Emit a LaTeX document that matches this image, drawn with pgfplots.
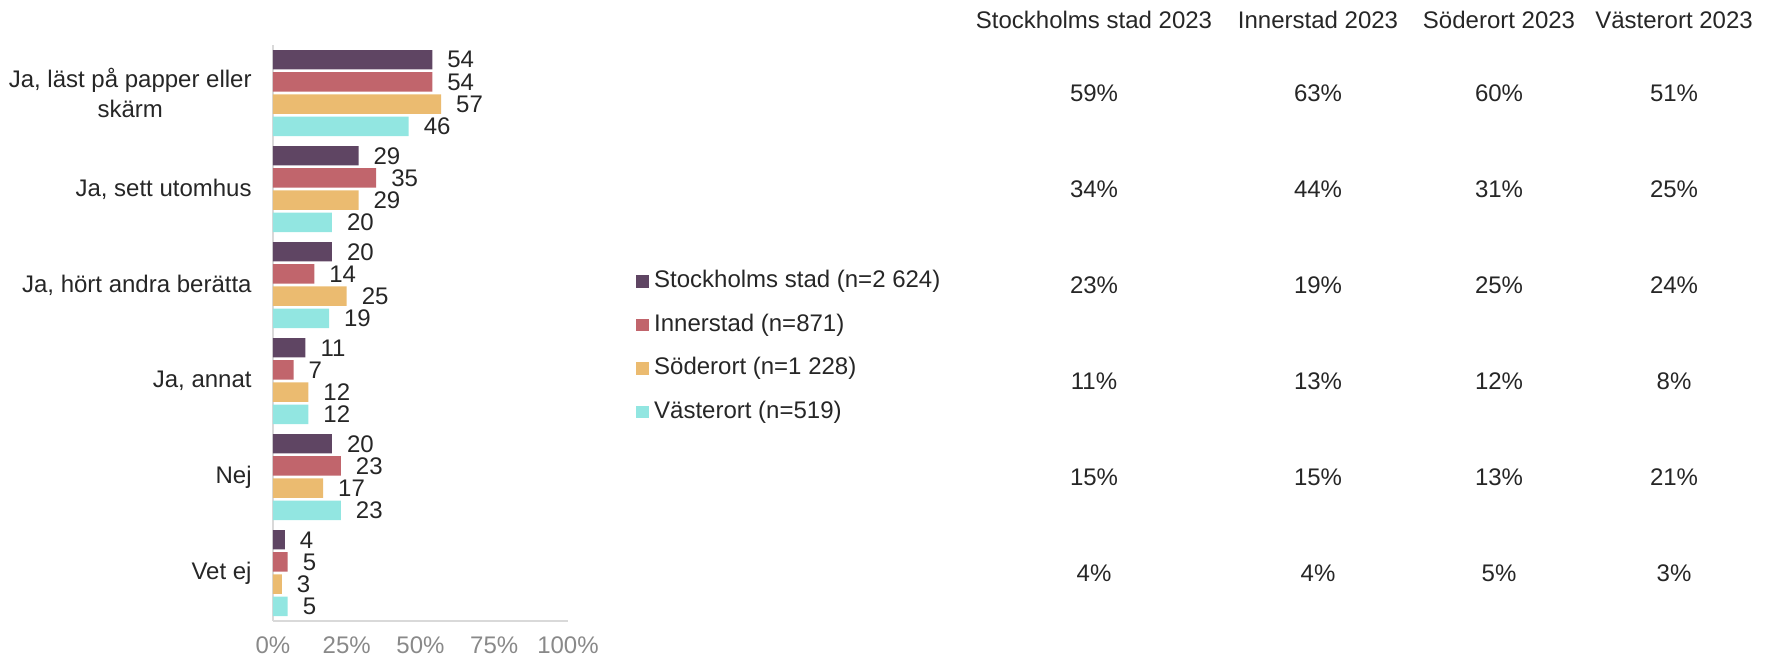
\documentclass[border=0pt]{standalone}
\usepackage{pgfplots}
\pgfplotsset{compat=1.18}
\usepackage{pgfplotstable}
\usepackage{fontspec}
\setmainfont{Liberation Sans}
\definecolor{cSth}{RGB}{95,69,99}
\definecolor{cInn}{RGB}{193,101,108}
\definecolor{cSod}{RGB}{235,187,112}
\definecolor{cVas}{RGB}{146,230,225}
\definecolor{axgray}{RGB}{217,217,217}
\definecolor{tickgray}{RGB}{137,137,137}
\definecolor{txt}{RGB}{38,38,38}

% bar chart data (percent)
\pgfplotstableread{
y sth inn sod vas
0 54 54 57 46
1 29 35 29 20
2 20 14 25 19
3 11 7 12 12
4 20 23 17 23
5 4 5 3 5
}\bars

% table to the right (percent), x = column position in px
\pgfplotstableread{
y c1 c2 c3 c4
0 59 63 60 51
1 34 44 31 25
2 23 19 25 24
3 11 13 12 8
4 15 15 13 21
5 4 4 5 3
}\tabvals

\pgfplotsset{sq/.style={legend image code/.code={\fill[##1] (0pt,-3.2pt) rectangle (6.4pt,3.2pt);}}}

\begin{document}
\begin{tikzpicture}[font=\fontsize{12}{15}\selectfont, text=txt]
\path[use as bounding box] (0,0) rectangle (886.5pt,327.5pt);
\begin{axis}[
  at={(136.5pt,17pt)}, anchor=south west,
  scale only axis, width=147.5pt, height=288pt,
  xbar, bar width=0.203,
  xmin=0, xmax=100, ymin=-0.5, ymax=5.5, y dir=reverse,
  axis x line*=bottom, axis y line*=left,
  axis line style={draw=axgray, line width=1pt},
  every outer x axis line/.append style={-}, every outer y axis line/.append style={-},
  major tick length=0pt,
  xtick={0,25,50,75,100}, xticklabels={0\%,25\%,50\%,75\%,100\%},
  xticklabel style={text=tickgray, inner sep=0pt, yshift=-7.6pt},
  ytick={0,1,2,3,4,5},
  yticklabels={{Ja, läst på papper eller\\skärm},{Ja, sett utomhus},{Ja, hört andra berätta},{Ja, annat},{Nej},{Vet ej}},
  yticklabel style={align=center, inner sep=0pt, xshift=-10.5pt},
  nodes near coords,
  /pgf/number format/assume math mode=true,
  every node near coord/.append style={xshift=4pt, text=txt},
  clip=false,
  legend style={at={(1.2305,0.476)}, anchor=west, draw=none, fill=none, inner sep=0pt,
    nodes={inner sep=0pt, text height=9pt, text depth=3pt, anchor=west},
    row sep=9.75pt, legend cell align=left,
    /tikz/every odd column/.append style={column sep=2.5pt}},
]
\addplot[fill=cSth, draw=none, bar shift=-0.3465, sq] table[x=sth, y=y] {\bars};
\addplot[fill=cInn, draw=none, bar shift=-0.1155, sq] table[x=inn, y=y] {\bars};
\addplot[fill=cSod, draw=none, bar shift=0.1155, sq] table[x=sod, y=y] {\bars};
\addplot[fill=cVas, draw=none, bar shift=0.3465, sq] table[x=vas, y=y] {\bars};
\legend{Stockholms stad (n=2 624),Innerstad (n=871),Söderort (n=1 228),Västerort (n=519)}
\end{axis}
\begin{axis}[
  at={(0pt,17pt)}, anchor=south west,
  scale only axis, width=886.5pt, height=288pt,
  xmin=0, xmax=1773, ymin=-0.5, ymax=5.5, y dir=reverse,
  hide axis, clip=false,
  nodes near coords={\pgfplotspointmeta\%},
  point meta=explicit symbolic,
  every node near coord/.append style={anchor=center, text=txt},
]
\addplot[draw=none, mark=none] table[x expr=1094, y=y, meta=c1] {\tabvals};
\addplot[draw=none, mark=none] table[x expr=1318, y=y, meta=c2] {\tabvals};
\addplot[draw=none, mark=none] table[x expr=1499, y=y, meta=c3] {\tabvals};
\addplot[draw=none, mark=none] table[x expr=1674, y=y, meta=c4] {\tabvals};
\node at (axis cs:1094,-0.76) {Stockholms stad 2023};
\node at (axis cs:1318,-0.76) {Innerstad 2023};
\node at (axis cs:1499,-0.76) {Söderort 2023};
\node at (axis cs:1674,-0.76) {Västerort 2023};
\end{axis}
\end{tikzpicture}
\end{document}
